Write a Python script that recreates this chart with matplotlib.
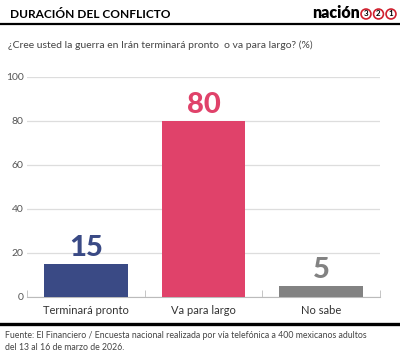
import numpy as np
import matplotlib.pyplot as plt
from matplotlib.lines import Line2D

plt.rcParams['font.family'] = ['Lato', 'DejaVu Sans']

# data
categories = ['Terminará pronto', 'Va para largo', 'No sabe']
values = [15, 80, 5]
colors = ['#3a4a85', '#e0426a', '#828282']

fig = plt.figure(figsize=(4.0, 3.58), dpi=100)
ax = fig.add_axes([0.0675, 0.1704, 0.8825, 0.6146])

x = np.arange(len(categories))
ax.bar(x, values, width=0.71, color=colors, zorder=3)
for xi, v, c in zip(x, values, colors):
    ax.text(xi, v + 1.5, str(v), ha='center', va='bottom', fontsize=21,
            fontweight='black', color=c, zorder=4)

ax.set_xlim(-0.5, 2.5)
ax.set_ylim(0, 100)
ax.set_yticks([0, 20, 40, 60, 80, 100])
ax.grid(axis='y', color='#dddddd', lw=0.9, zorder=0)
ax.set_xticks(x)
ax.set_xticklabels(categories, fontsize=8, color='#333333')
ax.set_xticks([-0.5, 0.5, 1.5, 2.5], minor=True)
ax.tick_params(axis='x', which='major', length=0, pad=6)
ax.tick_params(axis='x', which='minor', direction='in', length=5, color='#bbbbbb')
ax.tick_params(axis='y', length=0, labelsize=7.5, labelcolor='#555555', pad=2.5)
for s in ['top', 'right', 'left']:
    ax.spines[s].set_visible(False)
ax.spines['bottom'].set_color('#bbbbbb')

# header
fig.text(10 / 400, 1 - 15 / 358, 'DURACIÓN DEL CONFLICTO', fontsize=8.6,
         fontweight='bold', va='center', ha='left')
fig.text(360 / 400, 1 - 13 / 358, 'nación', fontsize=11.5, fontweight='heavy',
         va='center', ha='right')
for i, d in enumerate(['3', '2', '1']):
    fig.text((366 + i * 12.5) / 400, 1 - 14 / 358, d, fontsize=5.8, fontweight='bold',
             ha='center', va='center',
             bbox=dict(boxstyle='circle,pad=0.18', ec='#d0202e', fc='white', lw=1.2))
fig.add_artist(Line2D([0, 1], [1 - 24 / 358] * 2, color='black', lw=1.6))

fig.text(8 / 400, 1 - 45 / 358,
         '¿Cree usted la guerra en Irán terminará pronto  o va para largo? (%)',
         fontsize=7.5, color='#444444', va='center', ha='left')

# footer
fig.add_artist(Line2D([0, 1], [1 - 324 / 358] * 2, color='black', lw=2.4))
fig.text(5 / 400, 1 - 336 / 358,
         'Fuente: El Financiero / Encuesta nacional realizada por vía telefónica a 400 mexicanos adultos',
         fontsize=6.3, color='#444444', va='center', ha='left')
fig.text(5 / 400, 1 - 348 / 358, 'del 13 al 16 de marzo de 2026.',
         fontsize=6.3, color='#444444', va='center', ha='left')

fig.savefig('out.png', dpi=100)
